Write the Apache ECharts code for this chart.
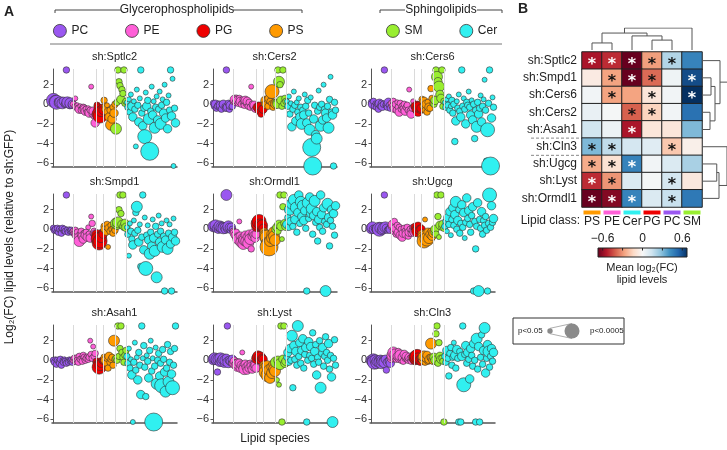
<!DOCTYPE html>
<html><head><meta charset="utf-8">
<script src="https://cdn.jsdelivr.net/npm/echarts@6/dist/echarts.min.js"></script>
<style>html,body{margin:0;padding:0;background:#fff}#c{width:727px;height:450px}</style>
</head><body><div id="c"></div>
<script>
const FONT = 'Liberation Sans, Arial, Helvetica, sans-serif';
const classes = ['PC','PE','PG','PS','SM','Cer'];
const classCounts = [20,24,7,12,11,50];
const classColors = ['#9a57f0','#ff5fd8','#ee0000','#ff9a00','#99ee30','#30f0f0'];
const panelNames = ['sh:Sptlc2','sh:Cers2','sh:Cers6','sh:Smpd1','sh:Ormdl1','sh:Ugcg','sh:Asah1','sh:Lyst','sh:Cln3'];
const yTicks = [-6,-4,-2,0,2];
// significance level (0 = n.s., 5 = strongest) -> marker size
const sizeMap = [5, 6.5, 8.5, 11, 14, 18];

// order per panel: PC(20) PE(24) PG(7) PS(12) SM(11) Cer(50)
const ySptlc2 = [0.4,0.3,0.5,0.2,0.3,0.1,0.2,0.2,0.0,0.1,0.3,0.0,-0.1,3.5,0.2,0.0,-0.2,0.1,-0.1,0.0,
 0.0,-0.2,0.6,-0.3,-0.1,-0.4,-0.5,-0.2,-0.6,-0.3,-0.3,-0.5,-0.7,-0.5,-0.8,-0.4,-0.9,-0.6,1.8,-1.0,-0.7,-1.2,-1.9,-0.8,
 -0.1,-0.4,-1.0,-1.2,-0.7,-0.3,-0.6,
 0.4,-0.2,-0.5,-0.1,-0.8,-1.3,-0.6,-2.1,-1.5,-0.3,-0.9,0.0,
 -2.5,0.2,3.5,2.3,1.9,0.5,1.5,1.1,3.5,0.1,0.3,
 0.2,-0.3,0.5,-0.8,1.0,-0.2,-1.3,0.3,-0.5,-4.3,1.5,-0.1,-1.8,0.6,3.5,-0.9,-2.2,-0.4,-3.3,1.2,
 -0.2,0.4,-1.5,-4.8,-0.7,1.8,-1.1,0.3,-2.4,-0.3,0.8,-1.6,-0.5,1.3,-2.0,-0.1,0.5,-0.9,2.0,-1.4,
 0.2,-2.5,0.9,-0.6,3.5,-1.2,2.6,-6.3,-0.4,-1.9];
const sSptlc2 = [4,3,2,4,1,2,1,3,0,3,2,1,0,1,3,1,0,3,1,2,
 1,0,0,1,0,1,2,0,1,0,1,2,2,1,1,0,2,1,0,1,2,1,2,1,
 1,2,4,4,3,1,2,
 1,1,2,0,2,2,1,3,2,1,2,1,
 3,1,1,1,1,2,1,1,1,1,1,
 0,1,0,1,0,2,2,0,1,0,0,1,2,0,1,1,2,1,4,0,2,1,3,5,1,0,2,0,3,1,0,2,1,0,3,1,0,2,0,2,1,2,0,1,1,2,0,0,1,2];

const yCers2 = [0.1,-0.2,0.0,-0.4,-0.2,0.1,-0.3,-0.1,-0.5,0.0,0.0,-0.2,-0.4,3.5,-0.3,0.1,-0.5,-0.1,-0.3,-0.2,
 0.3,0.5,0.2,0.7,0.4,0.1,0.6,0.3,0.0,0.5,0.2,-0.1,0.4,0.1,0.3,-0.2,0.2,-0.3,1.8,0.0,-0.3,-0.1,-0.5,-0.4,
 -0.3,-0.1,-0.6,-0.2,-1.0,-0.4,-0.5,
 0.2,0.4,0.0,0.5,-0.2,0.6,0.3,0.1,1.3,-0.3,0.2,0.0,
 0.2,0.0,3.5,2.3,2.0,0.4,-0.2,3.5,0.1,0.6,0.3,
 0.3,-0.2,0.8,-1.0,0.1,-2.3,-0.5,1.3,-0.1,-1.7,0.2,-0.8,0.6,-1.3,-0.3,-2.0,-0.6,-1.1,1.0,-0.2,
 -1.9,0.4,-0.9,-2.6,0.7,-4.4,-6.3,-1.5,-0.1,-3.1,-3.5,-0.7,1.4,-0.3,-2.2,0.0,-1.6,2.0,-0.5,-0.9,
 -1.4,-0.2,-2.4,0.5,2.8,-0.8,-1.1,-6.3,0.2,-0.6];
const sCers2 = [1,1,2,1,1,0,1,2,1,1,2,0,1,1,2,1,1,2,0,1,
 1,2,1,0,2,1,1,2,1,0,1,1,2,1,2,1,1,1,0,1,1,2,1,0,
 2,1,2,2,1,1,2,
 1,2,2,1,1,2,1,0,4,1,1,2,
 1,2,1,3,1,2,1,1,1,1,1,
 0,1,0,1,0,2,1,0,1,2,0,1,0,2,1,3,1,2,0,1,2,1,1,3,0,5,5,2,1,2,3,1,0,1,3,1,2,0,1,2,2,1,3,1,0,1,2,1,1,1];

const yCers6 = [0.2,0.0,0.3,-0.2,0.1,-0.3,0.0,-0.5,0.1,-0.2,0.1,-0.2,0.0,3.5,-0.1,0.0,-0.3,0.2,-0.1,-0.4,
 0.1,-0.2,0.3,-0.4,0.0,-0.6,0.2,-0.3,-0.8,0.1,-0.5,-0.2,-0.4,0.0,-0.7,-0.3,-0.1,-0.6,1.5,-0.7,-1.0,-0.4,0.3,-0.2,
 -0.2,-0.5,0.0,-0.8,-0.3,-0.6,-0.4,
 0.5,-0.2,0.3,-0.6,0.0,-0.8,0.2,-0.3,-0.4,1.6,0.6,0.1,
 0.0,0.4,3.5,2.8,2.3,1.8,1.0,0.6,3.5,-0.2,0.3,
 0.2,-0.3,0.5,-0.1,0.8,-0.6,-0.2,0.4,-0.9,0.0,-3.8,-1.7,0.3,-0.4,1.0,-0.7,-1.3,3.5,-0.2,0.6,
 -0.5,-2.0,0.2,-0.1,1.3,-0.3,-1.1,0.4,-1.6,0.0,-3.5,-0.6,-2.3,0.2,-1.0,-0.4,0.9,-1.8,-0.2,0.5,
 2.5,-0.6,-5.8,-2.6,0.1,3.5,-6.3,-1.4,0.7,-0.3];
const sCers6 = [1,2,1,1,0,1,1,1,2,1,1,2,1,1,0,1,1,2,1,1,
 1,1,1,2,1,1,0,1,2,1,1,1,1,1,2,1,1,1,0,1,2,1,0,1,
 2,2,1,2,3,1,2,
 1,1,2,1,2,1,1,2,1,1,1,1,
 1,2,1,3,2,3,2,2,1,1,1,
 0,1,0,1,0,1,0,1,1,1,1,2,0,1,0,1,2,1,1,0,1,2,1,1,0,1,2,0,2,1,1,1,3,1,2,1,0,2,1,0,0,1,1,4,1,1,5,2,0,1];

const ySmpd1 = [0.1,-0.1,0.0,-0.2,0.1,-0.3,0.0,-0.1,-0.4,0.1,-0.2,0.0,-0.2,3.5,-0.1,-0.3,0.0,-0.2,-0.1,-0.3,
 -0.2,-0.4,-0.1,-0.6,-0.3,-0.8,-1.2,-0.5,-0.2,-0.7,-1.0,-0.4,-0.6,-0.3,-0.8,0.2,-0.5,-0.9,1.3,0.6,-0.4,-0.2,-0.5,-0.7,
 -0.6,-1.0,-1.4,-1.2,-0.8,-0.3,-0.5,
 0.3,0.0,-0.3,0.5,-1.8,0.1,-0.2,0.4,0.0,-0.4,0.2,-0.1,
 0.6,0.4,0.7,2.0,3.5,1.6,0.5,3.5,0.3,0.6,0.2,
 0.2,-0.5,-2.7,0.6,-0.2,-1.0,-1.6,0.9,-0.4,1.7,2.3,-0.1,-1.3,0.5,-3.8,-0.8,3.5,-2.1,1.2,-4.0,
 -0.6,0.4,-1.1,-2.5,-0.3,-1.7,1.0,-0.9,-2.2,0.3,-4.9,-0.5,1.4,-1.3,-0.2,0.6,-1.8,-0.7,-6.3,-1.1,
 0.9,-2.0,-0.4,0.5,-1.5,-6.3,-0.8,1.1,-0.3,-1.2];
const sSmpd1 = [1,1,1,0,1,1,1,0,1,1,0,1,1,1,1,1,0,1,1,1,
 1,1,1,2,1,2,3,1,1,2,2,1,2,1,2,0,1,2,0,1,1,1,2,1,
 3,4,4,4,3,1,2,
 1,2,1,1,0,2,1,1,1,1,1,1,
 3,2,3,1,1,1,2,1,2,2,2,
 0,1,0,0,1,1,2,0,1,1,3,1,2,0,1,1,1,2,0,4,1,0,2,3,1,2,0,2,3,1,3,1,0,2,1,0,3,1,1,2,0,3,1,0,2,1,2,0,1,2];

const yOrmdl1 = [0.3,0.2,0.4,0.1,0.2,0.0,0.3,0.1,0.2,0.3,0.1,0.2,0.0,3.5,0.1,0.3,0.2,-0.1,0.2,0.0,
 -0.2,-0.4,-0.6,-0.3,-0.8,-1.0,0.8,-0.7,-1.3,-0.9,-1.5,-1.1,-0.6,-1.2,-0.8,-1.4,-0.5,-1.0,-2.0,-0.7,-0.4,-0.6,-0.9,-0.5,
 0.3,0.6,0.8,0.5,0.2,0.4,0.1,
 -0.3,-0.6,-1.0,-0.8,-1.5,-1.8,-1.2,-0.5,-0.9,-0.2,-0.7,-1.1,
 0.0,0.2,-0.2,0.5,3.5,0.3,-1.0,2.3,3.5,0.6,0.3,
 0.5,1.2,0.2,2.0,0.8,2.6,0.3,3.0,1.0,2.2,-0.3,1.7,3.5,0.6,2.8,1.3,2.4,0.9,1.9,0.1,
 -6.3,2.7,1.1,3.3,1.6,2.1,-0.5,1.4,2.9,0.7,1.8,-1.2,1.0,0.2,3.5,1.5,-0.2,2.2,0.8,-6.3,
 0.5,2.6,1.2,-1.7,0.9,2.0,0.3,1.6,-0.6,2.4];
const sOrmdl1 = [3,2,3,2,1,2,3,2,3,2,3,2,2,3,2,3,2,1,2,1,
 1,2,2,1,2,3,0,2,3,2,3,3,2,3,2,3,2,3,1,2,2,2,2,2,
 3,4,4,3,2,3,2,
 2,3,3,4,4,5,3,2,3,2,3,3,
 2,2,1,2,1,2,0,1,1,2,2,
 2,1,1,3,2,3,1,3,2,3,1,2,2,1,3,2,3,2,2,1,1,3,1,2,2,3,1,2,3,1,2,1,2,1,2,2,1,2,1,3,1,3,2,1,1,2,1,2,1,2];

const yUgcg = [0.1,0.2,0.0,0.1,-0.1,0.0,0.2,0.1,0.0,0.1,-0.1,0.0,0.1,3.5,0.2,0.1,-0.1,0.0,0.1,0.0,
 0.3,0.5,-0.2,0.8,0.1,-0.5,0.4,-0.3,0.2,-0.6,0.0,-0.8,-0.4,0.1,-0.2,-0.5,0.2,-0.7,-0.3,0.0,-0.4,-0.1,0.2,-0.3,
 0.2,0.0,-0.2,0.3,-0.1,0.1,0.0,
 -0.5,-0.8,-1.2,1.0,-0.6,-1.0,-0.3,-0.9,-0.5,-0.2,-0.7,-0.4,
 -0.3,0.0,-0.5,3.5,1.3,-0.8,0.4,3.5,0.2,0.5,0.1,
 0.3,0.8,-0.2,1.2,0.5,1.8,-0.6,1.0,2.2,0.4,1.5,2.8,0.0,0.9,2.0,-0.4,0.6,2.5,0.2,1.7,
 -0.9,0.7,3.2,1.1,1.9,0.5,-0.3,1.4,2.3,-6.3,0.8,-2.0,0.3,2.7,-6.3,1.0,0.1,1.8,-0.5,0.9,
 0.4,1.3,-0.1,-6.3,0.6,3.5,0.2,2.4,0.7,1.1];
const sUgcg = [3,3,2,1,1,2,1,3,4,3,2,1,3,1,3,2,1,1,1,2,
 1,2,1,1,2,1,1,2,1,2,1,2,2,1,1,2,1,1,2,1,1,1,1,2,
 2,2,3,2,2,1,2,
 2,3,4,0,3,4,2,3,2,1,2,2,
 1,2,1,1,1,0,2,1,1,2,1,
 1,1,0,2,1,2,0,1,2,1,2,3,1,2,1,1,1,2,1,2,0,1,2,1,2,1,1,1,2,1,1,1,1,2,3,1,1,2,1,1,1,1,1,1,1,4,1,2,1,2];

const yAsah1 = [0.0,-0.2,0.1,-0.4,0.0,-0.1,-0.3,0.1,-0.5,0.0,-0.2,0.1,-0.1,-0.3,0.0,-0.2,0.1,-0.1,0.0,-0.2,
 0.0,0.2,-0.1,0.3,0.0,-0.2,0.4,0.1,0.2,-0.1,0.5,0.3,0.0,0.2,0.4,0.1,0.3,2.0,0.6,0.2,1.4,0.4,0.7,-0.1,
 -0.2,-0.4,-0.7,-0.5,-0.3,0.0,-0.1,
 0.3,0.0,-0.3,0.2,-0.8,0.4,-0.2,0.1,0.3,-0.5,2.0,0.1,
 0.2,0.0,3.5,0.4,1.2,3.5,0.8,0.3,-0.2,0.5,1.0,
 0.4,-0.3,1.2,-0.8,0.1,-1.5,-6.3,-0.2,1.8,-1.0,0.3,-2.0,0.8,-0.5,-3.5,3.5,0.2,1.5,-0.7,-3.7,
 0.5,-0.1,-1.8,1.0,2.0,-1.1,0.2,-6.3,-0.6,1.3,-2.4,0.0,0.7,-1.6,-0.3,-2.6,1.1,0.1,-1.2,-3.2,
 -0.8,1.6,-2.2,-0.2,0.9,-1.4,-2.8,-0.5,1.2,3.5];
const sAsah1 = [1,1,0,1,1,0,1,1,1,0,1,0,1,1,0,1,0,1,1,1,
 1,1,1,0,1,1,1,1,0,1,1,1,1,1,0,1,1,0,1,1,0,1,1,1,
 2,2,4,3,2,1,1,
 1,2,1,1,1,2,1,1,1,1,3,1,
 1,1,1,1,1,1,1,1,1,1,1,
 1,1,0,1,0,2,0,1,0,1,0,2,1,1,2,1,0,1,1,1,0,1,2,1,0,1,0,5,1,0,3,1,1,2,1,4,1,1,2,3,1,1,3,1,1,2,4,1,1,1];

const yLyst = [0.1,0.2,0.0,0.1,-1.2,0.1,-0.2,0.2,0.0,-0.1,0.1,-0.3,0.0,0.2,3.5,-0.2,0.0,-0.1,-0.3,0.1,
 -0.3,-0.1,-0.5,-0.2,-0.7,-0.4,-0.3,-0.8,-0.5,0.8,-0.6,-0.9,-0.4,-0.7,-1.0,-0.5,-0.8,-0.3,-0.6,-0.9,-0.4,-0.7,-0.5,-0.8,
 0.2,0.4,0.1,0.3,0.0,0.2,0.1,
 -0.5,-0.8,-1.2,-0.6,-1.5,-1.0,-1.8,-0.7,-1.3,-0.4,-0.9,-1.1,
 -0.2,-2.0,0.0,-2.5,-0.4,3.5,-6.3,0.1,3.5,-0.3,-0.1,
 0.3,0.8,-0.2,1.2,0.0,2.5,-2.8,1.5,0.1,0.9,-0.5,3.5,0.4,1.8,-0.3,1.0,2.2,-0.8,0.6,1.3,
 -6.3,0.0,1.9,0.5,1.4,0.2,2.8,-0.4,0.9,1.6,-1.5,0.3,-0.2,2.0,-2.8,0.7,1.3,-0.6,0.4,2.4,
 0.8,0.0,1.7,-0.9,0.5,-1.7,-6.3,0.2,2.1,-0.5];
const sLyst = [3,3,2,3,1,3,2,3,2,3,3,2,3,2,1,3,2,2,1,2,
 2,2,2,1,2,3,2,2,2,0,2,3,2,2,2,2,2,1,2,2,1,2,2,2,
 3,3,2,3,2,2,2,
 2,3,4,3,4,3,3,2,3,2,3,3,
 3,0,2,0,3,1,1,2,1,2,2,
 1,2,1,2,1,3,1,2,1,2,1,3,1,2,1,2,2,1,1,2,1,1,2,1,2,1,1,1,2,1,2,1,1,1,3,1,2,1,1,1,1,1,2,1,1,2,3,1,1,1];

const yCln3 = [0.0,-0.1,0.1,-0.2,0.0,-0.3,-0.1,0.0,-0.2,0.1,-0.3,-0.1,0.0,-0.2,0.1,-1.0,-0.2,0.0,-0.1,-0.3,
 0.2,0.5,0.8,0.3,0.6,0.1,0.4,0.9,0.2,0.5,0.0,0.3,-0.1,0.6,0.2,0.4,0.1,0.0,0.3,0.2,-0.1,0.2,0.4,0.1,
 0.1,0.3,0.4,0.2,0.0,-0.2,0.2,
 0.3,0.0,0.4,-0.2,0.2,0.5,-0.1,0.1,0.3,1.7,0.2,0.0,
 0.3,0.0,2.7,3.5,-0.3,1.8,0.4,0.1,0.2,-0.1,-6.3,
 0.4,-0.2,1.0,0.2,-1.6,0.7,1.3,-0.5,0.3,1.8,0.5,-0.8,1.1,0.2,-6.3,0.9,-6.3,0.4,3.5,-2.5,
 0.6,1.5,-0.3,0.8,0.1,-1.9,1.2,0.5,-0.6,1.7,0.0,-6.3,2.2,-0.9,1.4,-6.3,0.3,2.6,-0.4,1.0,
 3.3,-1.3,0.2,1.6,0.9,-0.7,0.4,1.2,-0.1,0.8];
const sCln3 = [3,3,3,4,3,3,3,2,3,2,3,3,2,3,2,1,2,1,2,2,
 2,3,3,2,3,1,2,1,2,3,1,2,1,2,1,2,1,1,2,1,1,1,2,1,
 3,4,4,3,2,1,2,
 2,2,3,1,2,2,1,2,1,3,2,2,
 2,2,1,1,1,1,2,2,1,1,1,
 1,1,2,1,1,1,1,1,1,0,2,1,2,1,1,1,1,2,1,4,1,2,1,2,1,2,2,1,1,2,1,1,3,1,2,1,1,1,1,2,3,2,1,2,3,1,1,2,1,2];

const panelY = [ySptlc2,yCers2,yCers6,ySmpd1,yOrmdl1,yUgcg,yAsah1,yLyst,yCln3];
const panelS = [sSptlc2,sCers2,sCers6,sSmpd1,sOrmdl1,sUgcg,sAsah1,sLyst,sCln3];

// heatmap (panel B)
const heatCols = ['PS','PE','Cer','PG','PC','SM'];
const heatRows = ['sh:Sptlc2','sh:Smpd1','sh:Cers6','sh:Cers2','sh:Asah1','sh:Cln3','sh:Ugcg','sh:Lyst','sh:Ormdl1'];
const heatVals = [
 [-0.55,-0.50,-0.75,-0.28, 0.20, 0.45],
 [-0.06,-0.27,-0.72,-0.38, 0.03, 0.60],
 [ 0.02,-0.27,-0.27,-0.08, 0.02, 0.72],
 [ 0.05, 0.01,-0.40,-0.15, 0.02, 0.50],
 [ 0.13, 0.04,-0.55,-0.08,-0.08, 0.30],
 [ 0.30, 0.17, 0.12, 0.08,-0.18,-0.04],
 [-0.25,-0.10, 0.45, 0.02, 0.10, 0.22],
 [-0.50,-0.30, 0.10, 0.01, 0.12,-0.07],
 [-0.72,-0.62, 0.45, 0.10, 0.15, 0.48]];
const heatSig = [
 [1,1,1,1,1,0],[0,1,1,1,0,1],[0,1,0,1,0,1],[0,0,1,1,0,0],[0,0,1,0,0,0],
 [1,1,0,0,1,0],[1,1,1,0,0,0],[1,1,0,0,1,0],[1,1,1,0,1,0]];
// dendrogram merges: [childA, childB, height]; leaves 0..n-1, new clusters n, n+1, ...
const colMerges = [[0,1,0.32],[3,4,0.45],[2,7,0.64],[6,8,0.77],[9,5,1.0]];
const rowMerges = [[1,2,0.36],[3,4,0.32],[9,10,0.52],[0,11,0.72],[6,7,0.59],[13,8,0.68],[5,14,1.0],[12,15,1.2]];
const cbTicks = [-0.6,-0.3,0,0.3,0.6];
const cbLabels = [-0.6,0,0.6];

// ---------- build ----------
const rdbu = ['#67001f','#b2182b','#d6604d','#f4a582','#fddbc7','#f7f7f7','#d1e5f0','#92c5de','#4393c3','#2166ac','#053061'];
const panelLeft = [52,212,370], panelTop = [69,194,325], panelW = 125, panelH = 98;
const grid=[], xAxis=[], yAxis=[], series=[], graphic=[];
let acc=0; const bounds=[];
classCounts.forEach((n,i)=>{acc+=n; if(i<classCounts.length-1) bounds.push(acc-0.5);});
const totalN = acc;
const txt = (x,y,text,o={}) => ({type:'text',x,y,silent:true,rotation:o.rot||0,style:{text,fill:o.fill||'#222',font:(o.weight||'normal')+' '+(o.size||12)+'px '+FONT,align:o.align||'center',verticalAlign:o.va||'middle'}});
const line = (pts,o={}) => ({type:'polyline',silent:true,shape:{points:pts},style:{stroke:o.stroke||'#444',lineWidth:o.w||1,lineDash:o.dash||null,fill:null}});

panelNames.forEach((name,p)=>{
  const r=Math.floor(p/3), c=p%3, L=panelLeft[c], T=panelTop[r];
  grid.push({left:L,top:T,width:panelW,height:panelH});
  xAxis.push({gridIndex:p,type:'value',min:-1.5,max:totalN+0.5,axisLine:{show:true,onZero:false,lineStyle:{color:'#555',width:1.5}},axisTick:{show:false},axisLabel:{show:false},splitLine:{show:false}});
  yAxis.push({gridIndex:p,type:'value',min:-6.4,max:3.6,axisLine:{show:true,lineStyle:{color:'#555',width:1}},
    axisTick:{show:true,length:3,customValues:yTicks,lineStyle:{color:'#555'}},
    axisLabel:{customValues:yTicks,fontSize:11,color:'#333',margin:3,fontFamily:FONT,formatter:v=>String(v).replace('-','\u2212')},splitLine:{show:false}});
  series.push({type:'scatter',xAxisIndex:p,yAxisIndex:p,data:[[0,100]],symbolSize:0,silent:true,z:1,
    markLine:{silent:true,symbol:'none',animation:false,label:{show:false},lineStyle:{color:'#dadada',width:1,type:'solid'},data:bounds.map(b=>({xAxis:b}))}});
  const Y=panelY[p], S=panelS[p]; let start=0;
  classes.forEach((cls,k)=>{
    const data=[]; for(let i=0;i<classCounts[k];i++){const j=start+i; data.push([j,Y[j],S[j]]);}
    start+=classCounts[k];
    series.push({name:cls,type:'scatter',xAxisIndex:p,yAxisIndex:p,data,clip:false,z:2,silent:true,
      symbolSize:d=>sizeMap[d[2]],itemStyle:{color:classColors[k],borderColor:'#333',borderWidth:0.6,opacity:1}});
  });
  graphic.push(txt(L+panelW/2, T-12, name, {size:11}));
});

// heatmap grid (index 9)
const HL=582, HT=52, HW=120, HH=155;
grid.push({left:HL,top:HT,width:HW,height:HH});
const rich={t:{fontSize:12,color:'#222',fontFamily:FONT,lineHeight:14}};
heatCols.forEach(cn=>{rich[cn]={width:17,height:4,lineHeight:5,backgroundColor:classColors[classes.indexOf(cn)]};});
xAxis.push({gridIndex:9,type:'category',data:heatCols,position:'bottom',axisLine:{show:false},axisTick:{show:false},splitLine:{show:false},
  axisLabel:{interval:0,margin:3,formatter:v=>'{'+v+'|}\n{t|'+v+'}',rich}});
yAxis.push({gridIndex:9,type:'category',data:heatRows,inverse:true,axisLine:{show:false},axisTick:{show:false},splitLine:{show:false},
  axisLabel:{interval:0,fontSize:12,color:'#222',margin:5,fontFamily:FONT}});
const hmData=[];
heatRows.forEach((rn,ri)=>heatCols.forEach((cn,ci)=>{
  const v=heatVals[ri][ci];
  hmData.push({value:[ci,ri,v],label:{show:!!heatSig[ri][ci],color:Math.abs(v)>0.4?'#fff':'#111'}});
}));
const hmIndex=series.length;
series.push({type:'heatmap',xAxisIndex:9,yAxisIndex:9,data:hmData,silent:true,
  itemStyle:{borderColor:'#222',borderWidth:1},
  label:{show:true,formatter:'*',fontSize:16,fontWeight:'bold',fontFamily:'DejaVu Sans',offset:[0,4]}});

// dendrograms
function dendro(n,merges){const pos=[],h=[],segs=[];for(let i=0;i<n;i++){pos.push(i);h.push(0);}
  merges.forEach(([a,b,hh])=>{segs.push([[pos[a],h[a]],[pos[a],hh],[pos[b],hh],[pos[b],h[b]]]);pos.push((pos[a]+pos[b])/2);h.push(hh);});return segs;}
grid.push({left:HL,top:28,width:HW,height:22});
xAxis.push({gridIndex:10,type:'value',min:-0.5,max:heatCols.length-0.5,show:false});
yAxis.push({gridIndex:10,type:'value',min:0,max:1,show:false});
series.push({type:'lines',coordinateSystem:'cartesian2d',xAxisIndex:10,yAxisIndex:10,polyline:true,silent:true,
  lineStyle:{color:'#555',width:1,opacity:1},data:dendro(heatCols.length,colMerges).map(c=>({coords:c}))});
grid.push({left:HL+HW,top:HT,width:25,height:HH});
xAxis.push({gridIndex:11,type:'value',min:0,max:1,show:false});
yAxis.push({gridIndex:11,type:'value',min:-0.5,max:heatRows.length-0.5,inverse:true,show:false});
series.push({type:'lines',coordinateSystem:'cartesian2d',xAxisIndex:11,yAxisIndex:11,polyline:true,silent:true,
  lineStyle:{color:'#555',width:1,opacity:1},data:dendro(heatRows.length,rowMerges).map(c=>c.map(([a,b])=>[b,a])).map(c=>({coords:c}))});

// colour bar
const CBX=598, CBY=248, CBW=89, CBH=9, VMIN=-0.67, VMAX=0.67;
const cbx=v=>CBX+(v-VMIN)/(VMAX-VMIN)*CBW;
graphic.push({type:'rect',silent:true,shape:{x:CBX,y:CBY,width:CBW,height:CBH},
  style:{fill:new echarts.graphic.LinearGradient(0,0,1,0,rdbu.map((c,i)=>({offset:i/(rdbu.length-1),color:c}))),stroke:'#222',lineWidth:1}});
cbTicks.forEach(v=>graphic.push(line([[cbx(v),CBY],[cbx(v),CBY+2.5]],{stroke:'#222'})));
cbLabels.forEach(v=>graphic.push(txt(cbx(v),CBY-9,String(v).replace('-','\u2212'),{size:12})));
graphic.push(txt(642,268,'Mean log\u2082(FC)',{size:11}));
graphic.push(txt(642,280,'lipid levels',{size:11}));

// dashed separators around sh:Cln3
const rowH=HH/heatRows.length;
[5,6].forEach(k=>graphic.push(line([[531,HT+k*rowH],[HL,HT+k*rowH]],{stroke:'#888',dash:[3,2]})));
graphic.push(txt(580,221,'Lipid class:',{size:12,align:'right'}));

// size legend
graphic.push({type:'rect',silent:true,shape:{x:513,y:318,width:111,height:26},style:{fill:null,stroke:'#333',lineWidth:1}});
graphic.push(txt(518,331,'p<0.05',{size:8,align:'left'}));
graphic.push(txt(590,331,'p<0.0005',{size:8,align:'left'}));
graphic.push(line([[550,328.3],[572,323.5]],{stroke:'#999',w:0.8}));
graphic.push(line([[550,333.7],[572,338.5]],{stroke:'#999',w:0.8}));
graphic.push({type:'circle',silent:true,shape:{cx:550,cy:331,r:2.7},style:{fill:'#8a8a8a'}});
graphic.push({type:'circle',silent:true,shape:{cx:572,cy:331,r:7.5},style:{fill:'#8a8a8a'}});

// header brackets
graphic.push(txt(4,12,'A',{size:14,weight:'bold',align:'left'}));
graphic.push(txt(518,9,'B',{size:14,weight:'bold',align:'left'}));
graphic.push(txt(177,10,'Glycerophospholipids',{size:12}));
graphic.push(line([[55,13],[55,10],[121,10]]));
graphic.push(line([[233,10],[302,10],[302,13]]));
graphic.push(txt(441,10,'Sphingolipids',{size:12}));
graphic.push(line([[380,13],[380,10],[405,10]]));
graphic.push(line([[477,10],[502,10],[502,13]]));
graphic.push(line([[50,44],[502,44]],{stroke:'#777',w:1}));
graphic.push(txt(10,237,'Log\u2082(FC) lipid levels (relative to sh:GFP)',{size:12,rot:Math.PI/2}));
graphic.push(txt(275,439,'Lipid species',{size:12}));

const legendCommon={top:24,padding:0,itemWidth:13,itemHeight:13,icon:'circle',selectedMode:false,itemGap:37,
  textStyle:{fontSize:12,color:'#222',fontFamily:FONT},itemStyle:{borderColor:'#333',borderWidth:0.8}};
const option={animation:false,textStyle:{fontFamily:FONT},
  legend:[Object.assign({left:53,data:['PC','PE','PG','PS']},legendCommon),Object.assign({left:386,data:['SM','Cer']},legendCommon)],
  grid,xAxis,yAxis,series,graphic,
  visualMap:{type:'continuous',show:false,min:VMIN,max:VMAX,dimension:2,seriesIndex:hmIndex,inRange:{color:rdbu}}};
const chart=echarts.init(document.getElementById('c'),null,{renderer:'canvas'});
chart.setOption(option);
</script></body></html>
